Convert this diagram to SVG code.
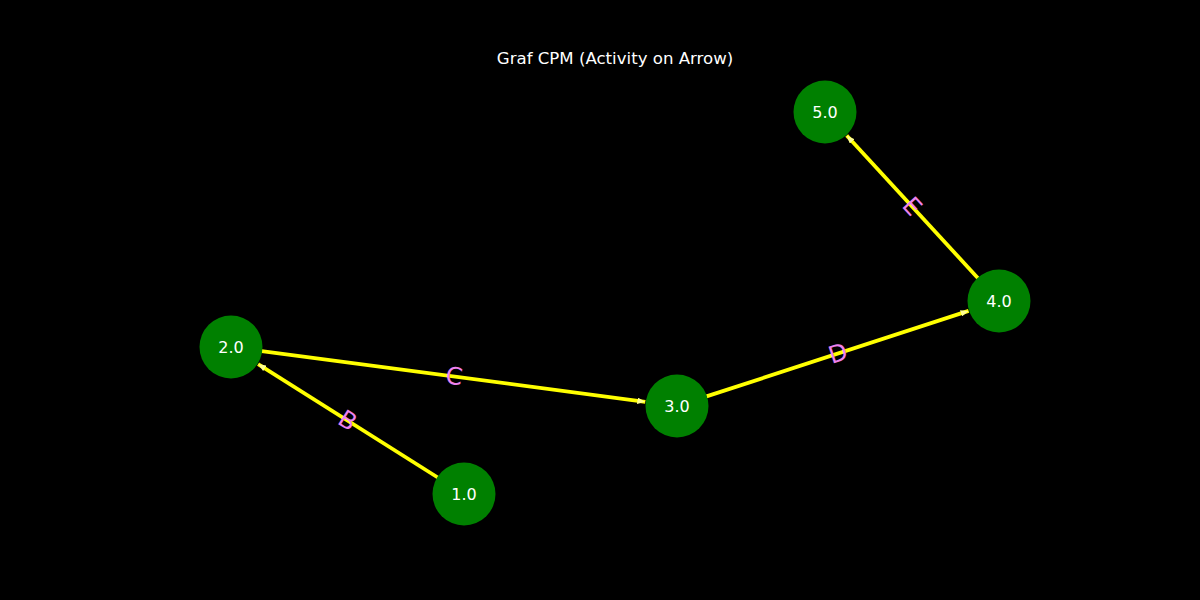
<svg xmlns="http://www.w3.org/2000/svg" width="1200" height="600" viewBox="0 0 1200 600">
<style>
.node circle{fill:#008000}
.node text{fill:#ffffff;font-family:"DejaVu Sans",sans-serif;font-size:16px;text-anchor:middle;dominant-baseline:central}
.edge{stroke:#ffff00;stroke-width:3.8;fill:none;marker-end:url(#arr)}
.lbl{fill:#ee82ee;font-family:"DejaVu Sans",sans-serif;font-size:24px;text-anchor:middle;dominant-baseline:central}
.title{fill:#ffffff;font-family:"DejaVu Sans",sans-serif;font-size:16.6px;text-anchor:middle}
</style>
<defs>
<marker id="arr" viewBox="0 0 10 8" markerWidth="8" markerHeight="6.5" refX="10" refY="4" orient="auto" markerUnits="userSpaceOnUse">
<path d="M0,0 L10,4 L0,8 z" fill="#ffff90"/>
</marker>
</defs>
<rect width="1200" height="600" fill="#000000"/>
<text class="title" x="615" y="64">Graf CPM (Activity on Arrow)</text>
<g id="connectors">
<line class="edge" x1="437.8" y1="477.5" x2="258.1" y2="364.1"/>
<line class="edge" x1="261.7" y1="351.1" x2="645.3" y2="401.8"/>
<line class="edge" x1="706.5" y1="396.4" x2="968.6" y2="310.9"/>
<line class="edge" x1="978" y1="278.2" x2="846.7" y2="135.5"/>
<text class="lbl" transform="translate(347.5,420.5) rotate(32.2)">B</text>
<text class="lbl" transform="translate(454,376.5) rotate(7.5)">C</text>
<text class="lbl" transform="translate(838,353.5) rotate(-18.1)">D</text>
<text class="lbl" transform="translate(912,206.5) rotate(47.4)">E</text>
</g>
<g id="node1" class="node"><circle cx="464" cy="494" r="31.5"/><text x="464" y="494">1.0</text></g>
<g id="node2" class="node"><circle cx="231" cy="347" r="31.5"/><text x="231" y="347">2.0</text></g>
<g id="node3" class="node"><circle cx="677" cy="406" r="31.5"/><text x="677" y="406">3.0</text></g>
<g id="node4" class="node"><circle cx="999" cy="301" r="31.5"/><text x="999" y="301">4.0</text></g>
<g id="node5" class="node"><circle cx="825" cy="112" r="31.5"/><text x="825" y="112">5.0</text></g>
</svg>
